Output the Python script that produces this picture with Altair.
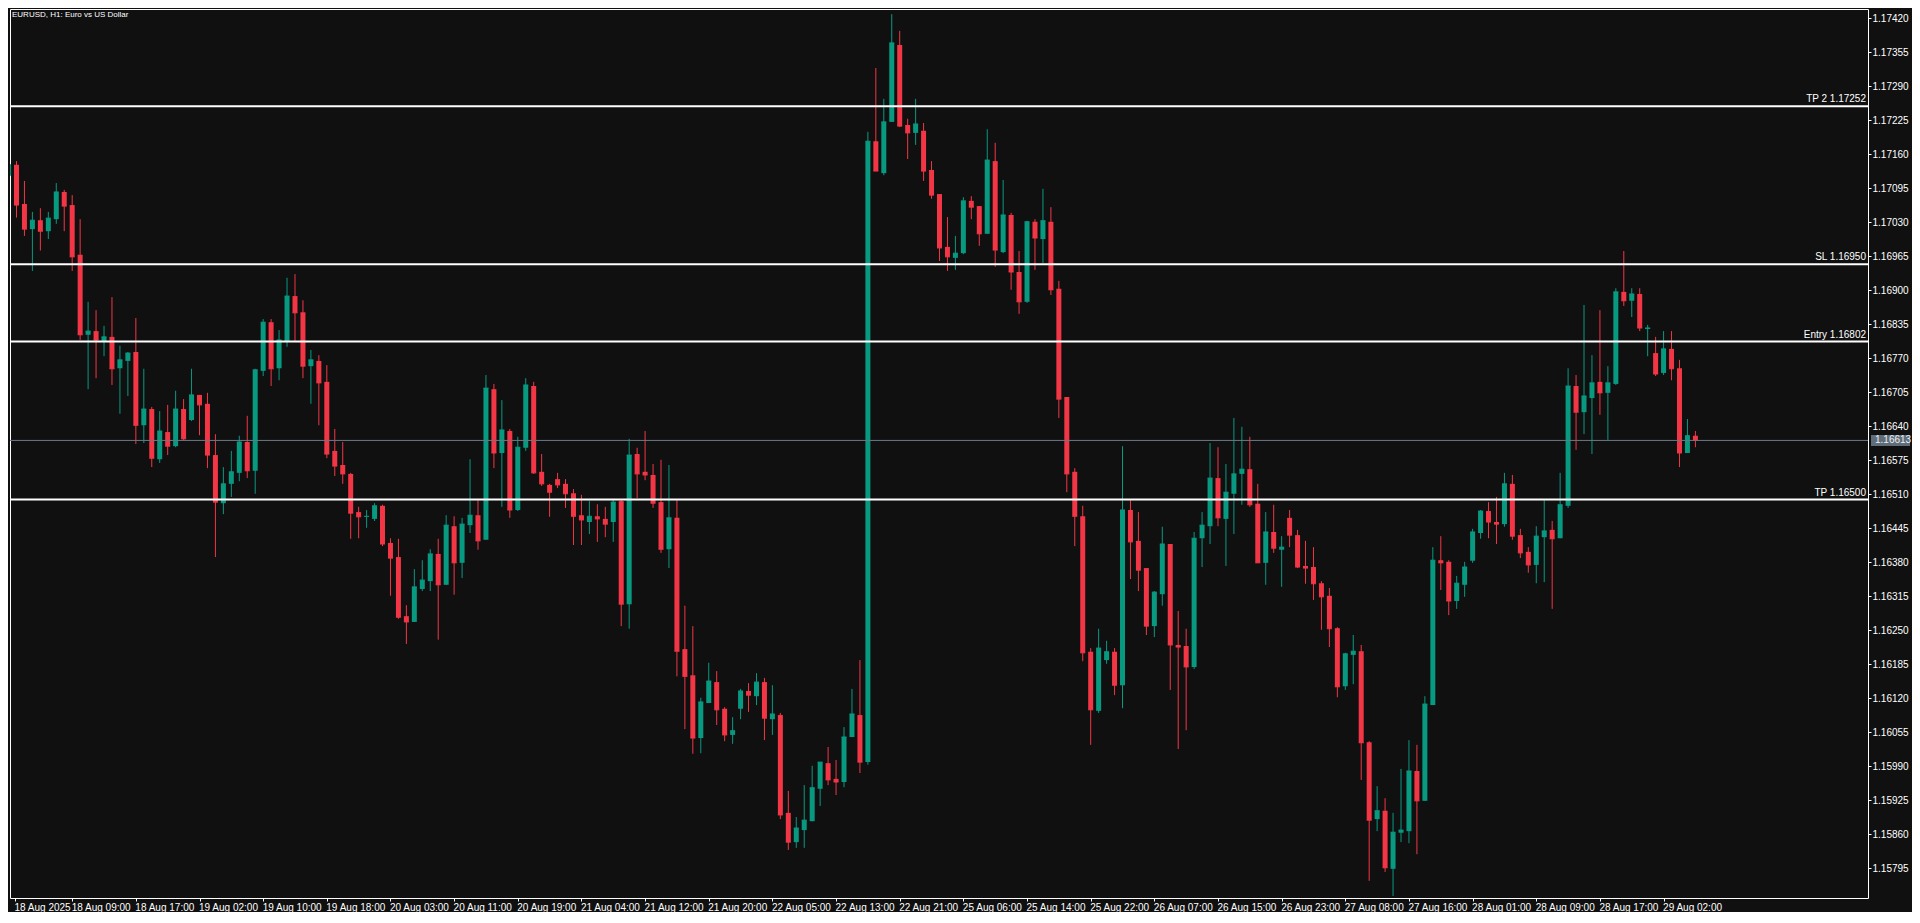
import json
import altair as alt
import pandas as pd

# ---------------- data (EURUSD H1) ----------------
opens = [1.17119, 1.17140, 1.17065, 1.17017, 1.17034, 1.17013, 1.17036, 1.17088, 1.17063, 1.16968,
         1.16815, 1.16822, 1.16803, 1.16811, 1.16751, 1.16765, 1.16782, 1.16642, 1.16673, 1.16577,
         1.16629, 1.16602, 1.16673, 1.16652, 1.16700, 1.16683, 1.16585, 1.16493, 1.16530, 1.16551,
         1.16610, 1.16555, 1.16746, 1.16839, 1.16751, 1.16803, 1.16889, 1.16858, 1.16755, 1.16765,
         1.16725, 1.16593, 1.16566, 1.16549, 1.16476, 1.16467, 1.16463, 1.16488, 1.16417, 1.16390,
         1.16277, 1.16266, 1.16329, 1.16344, 1.16396, 1.16337, 1.16449, 1.16379, 1.16451, 1.16470,
         1.16423, 1.16711, 1.16589, 1.16631, 1.16480, 1.16599, 1.16717, 1.16553, 1.16528, 1.16539,
         1.16530, 1.16512, 1.16470, 1.16457, 1.16468, 1.16463, 1.16457, 1.16497, 1.16300, 1.16587,
         1.16553, 1.16547, 1.16495, 1.16405, 1.16465, 1.16214, 1.16164, 1.16044, 1.16111, 1.16151,
         1.16100, 1.16050, 1.16100, 1.16134, 1.16124, 1.16151, 1.16080, 1.16088, 1.15901, 1.15845,
         1.15868, 1.15885, 1.15947, 1.15996, 1.15966, 1.15960, 1.16046, 1.16088, 1.15998, 1.17185,
         1.17124, 1.17222, 1.17369, 1.17216, 1.17201, 1.17205, 1.17130, 1.17084, 1.16983, 1.16962,
         1.16971, 1.17071, 1.17061, 1.17008, 1.17147, 1.16973, 1.17044, 1.16935, 1.16878, 1.17031,
         1.16998, 1.17031, 1.16903, 1.16696, 1.16553, 1.16468, 1.16209, 1.16096, 1.16193, 1.16209,
         1.16145, 1.16480, 1.16421, 1.16369, 1.16258, 1.16319, 1.16415, 1.16222, 1.16220, 1.16180,
         1.16426, 1.16449, 1.16541, 1.16463, 1.16511, 1.16549, 1.16558, 1.16492, 1.16379, 1.16438,
         1.16404, 1.16465, 1.16432, 1.16373, 1.16371, 1.16340, 1.16316, 1.16254, 1.16143, 1.16203,
         1.16210, 1.16036, 1.15889, 1.15905, 1.15794, 1.15863, 1.15866, 1.15981, 1.15924, 1.16107,
         1.16384, 1.16381, 1.16306, 1.16337, 1.16383, 1.16436, 1.16478, 1.16457, 1.16453, 1.16530,
         1.16432, 1.16400, 1.16375, 1.16428, 1.16442, 1.16426, 1.16488, 1.16717, 1.16667, 1.16694,
         1.16725, 1.16704, 1.16721, 1.16897, 1.16880, 1.16893, 1.16826, 1.16780, 1.16742, 1.16788,
         1.16751, 1.16589, 1.16622]
highs = [1.17149, 1.17147, 1.17109, 1.17050, 1.17057, 1.17050, 1.17105, 1.17092, 1.17082, 1.17036,
         1.16878, 1.16862, 1.16832, 1.16887, 1.16794, 1.16782, 1.16847, 1.16750, 1.16677, 1.16669,
         1.16681, 1.16708, 1.16692, 1.16750, 1.16700, 1.16704, 1.16625, 1.16562, 1.16593, 1.16622,
         1.16660, 1.16750, 1.16845, 1.16845, 1.16824, 1.16924, 1.16931, 1.16881, 1.16786, 1.16776,
         1.16757, 1.16635, 1.16610, 1.16551, 1.16486, 1.16480, 1.16493, 1.16490, 1.16426, 1.16425,
         1.16298, 1.16367, 1.16384, 1.16405, 1.16425, 1.16470, 1.16468, 1.16465, 1.16577, 1.16499,
         1.16738, 1.16721, 1.16690, 1.16635, 1.16620, 1.16732, 1.16725, 1.16587, 1.16530, 1.16551,
         1.16539, 1.16520, 1.16509, 1.16497, 1.16491, 1.16486, 1.16501, 1.16501, 1.16616, 1.16599,
         1.16631, 1.16568, 1.16576, 1.16566, 1.16501, 1.16297, 1.16258, 1.16121, 1.16188, 1.16172,
         1.16103, 1.16084, 1.16138, 1.16149, 1.16168, 1.16159, 1.16145, 1.16092, 1.15943, 1.15893,
         1.15954, 1.15991, 1.15998, 1.16027, 1.16002, 1.16065, 1.16138, 1.16193, 1.17203, 1.17325,
         1.17266, 1.17428, 1.17396, 1.17228, 1.17266, 1.17220, 1.17147, 1.17084, 1.17040, 1.17004,
         1.17078, 1.17080, 1.17061, 1.17208, 1.17182, 1.17111, 1.17048, 1.16975, 1.17033, 1.17036,
         1.17094, 1.17059, 1.16918, 1.16696, 1.16560, 1.16488, 1.16216, 1.16253, 1.16230, 1.16216,
         1.16602, 1.16499, 1.16476, 1.16369, 1.16325, 1.16448, 1.16415, 1.16287, 1.16253, 1.16438,
         1.16476, 1.16608, 1.16600, 1.16568, 1.16656, 1.16639, 1.16620, 1.16530, 1.16476, 1.16490,
         1.16430, 1.16480, 1.16442, 1.16421, 1.16409, 1.16344, 1.16331, 1.16256, 1.16207, 1.16241,
         1.16222, 1.16038, 1.15952, 1.15929, 1.15901, 1.15985, 1.16040, 1.16031, 1.16124, 1.16409,
         1.16430, 1.16384, 1.16354, 1.16381, 1.16444, 1.16480, 1.16495, 1.16505, 1.16551, 1.16547,
         1.16444, 1.16409, 1.16449, 1.16499, 1.16459, 1.16551, 1.16751, 1.16738, 1.16872, 1.16776,
         1.16862, 1.16755, 1.16904, 1.16975, 1.16904, 1.16904, 1.16834, 1.16811, 1.16822, 1.16822,
         1.16767, 1.16654, 1.16631]
lows = [1.17111, 1.17039, 1.17004, 1.16937, 1.16976, 1.16998, 1.17027, 1.17013, 1.16937, 1.16805,
        1.16711, 1.16732, 1.16774, 1.16719, 1.16664, 1.16698, 1.16606, 1.16608, 1.16562, 1.16570,
        1.16585, 1.16600, 1.16614, 1.16650, 1.16623, 1.16560, 1.16390, 1.16472, 1.16505, 1.16535,
        1.16541, 1.16511, 1.16736, 1.16717, 1.16728, 1.16792, 1.16803, 1.16732, 1.16683, 1.16642,
        1.16579, 1.16545, 1.16530, 1.16425, 1.16426, 1.16446, 1.16459, 1.16411, 1.16316, 1.16272,
        1.16224, 1.16266, 1.16325, 1.16325, 1.16232, 1.16337, 1.16318, 1.16350, 1.16436, 1.16404,
        1.16423, 1.16560, 1.16486, 1.16465, 1.16478, 1.16593, 1.16549, 1.16526, 1.16467, 1.16522,
        1.16484, 1.16413, 1.16413, 1.16434, 1.16419, 1.16428, 1.16419, 1.16258, 1.16253, 1.16503,
        1.16537, 1.16484, 1.16398, 1.16369, 1.16162, 1.16061, 1.16014, 1.16015, 1.16111, 1.16069,
        1.16038, 1.16033, 1.16080, 1.16094, 1.16107, 1.16040, 1.16050, 1.15889, 1.15830, 1.15834,
        1.15834, 1.15885, 1.15914, 1.15954, 1.15935, 1.15950, 1.16046, 1.15977, 1.15993, 1.17128,
        1.17120, 1.17222, 1.17212, 1.17151, 1.17178, 1.17109, 1.17075, 1.16956, 1.16937, 1.16939,
        1.16969, 1.17036, 1.16985, 1.17008, 1.16945, 1.16971, 1.16901, 1.16855, 1.16876, 1.16939,
        1.16952, 1.16891, 1.16656, 1.16514, 1.16411, 1.16191, 1.16031, 1.16092, 1.16186, 1.16126,
        1.16101, 1.16348, 1.16325, 1.16241, 1.16237, 1.16297, 1.16136, 1.16023, 1.16059, 1.16176,
        1.16371, 1.16415, 1.16449, 1.16373, 1.16434, 1.16490, 1.16486, 1.16379, 1.16337, 1.16398,
        1.16333, 1.16409, 1.16369, 1.16339, 1.16308, 1.16251, 1.16218, 1.16122, 1.16136, 1.16147,
        1.15964, 1.15771, 1.15866, 1.15788, 1.15742, 1.15845, 1.15843, 1.15822, 1.15924, 1.16107,
        1.16327, 1.16279, 1.16291, 1.16314, 1.16379, 1.16425, 1.16426, 1.16415, 1.16448, 1.16423,
        1.16388, 1.16360, 1.16340, 1.16342, 1.16291, 1.16426, 1.16484, 1.16595, 1.16625, 1.16587,
        1.16662, 1.16614, 1.16719, 1.16870, 1.16849, 1.16822, 1.16774, 1.16736, 1.16738, 1.16728,
        1.16562, 1.16589, 1.16600]
closes = [1.17140, 1.17063, 1.17017, 1.17034, 1.17013, 1.17038, 1.17088, 1.17061, 1.16964, 1.16815,
          1.16822, 1.16805, 1.16811, 1.16750, 1.16767, 1.16780, 1.16642, 1.16673, 1.16579, 1.16631,
          1.16602, 1.16673, 1.16616, 1.16700, 1.16681, 1.16585, 1.16495, 1.16530, 1.16553, 1.16610,
          1.16555, 1.16748, 1.16839, 1.16750, 1.16805, 1.16889, 1.16857, 1.16755, 1.16767, 1.16723,
          1.16587, 1.16564, 1.16549, 1.16474, 1.16467, 1.16468, 1.16488, 1.16415, 1.16388, 1.16275,
          1.16266, 1.16333, 1.16346, 1.16396, 1.16337, 1.16451, 1.16379, 1.16453, 1.16470, 1.16421,
          1.16713, 1.16589, 1.16633, 1.16480, 1.16600, 1.16719, 1.16551, 1.16530, 1.16514, 1.16528,
          1.16511, 1.16468, 1.16461, 1.16468, 1.16463, 1.16453, 1.16495, 1.16300, 1.16585, 1.16549,
          1.16547, 1.16493, 1.16405, 1.16465, 1.16210, 1.16162, 1.16044, 1.16113, 1.16153, 1.16098,
          1.16050, 1.16058, 1.16134, 1.16126, 1.16151, 1.16082, 1.16090, 1.15897, 1.15845, 1.15872,
          1.15887, 1.15949, 1.15998, 1.15964, 1.15960, 1.16046, 1.16090, 1.15998, 1.17185, 1.17128,
          1.17222, 1.17373, 1.17214, 1.17201, 1.17218, 1.17128, 1.17082, 1.16981, 1.16964, 1.16971,
          1.17071, 1.17059, 1.17008, 1.17149, 1.16977, 1.17044, 1.16935, 1.16878, 1.17031, 1.17000,
          1.17033, 1.16901, 1.16692, 1.16549, 1.16468, 1.16207, 1.16098, 1.16216, 1.16209, 1.16145,
          1.16480, 1.16419, 1.16365, 1.16258, 1.16323, 1.16415, 1.16222, 1.16218, 1.16180, 1.16426,
          1.16451, 1.16541, 1.16465, 1.16514, 1.16549, 1.16558, 1.16490, 1.16379, 1.16438, 1.16407,
          1.16409, 1.16432, 1.16371, 1.16369, 1.16339, 1.16314, 1.16253, 1.16142, 1.16205, 1.16210,
          1.16035, 1.15887, 1.15905, 1.15796, 1.15864, 1.15868, 1.15981, 1.15924, 1.16109, 1.16384,
          1.16379, 1.16306, 1.16340, 1.16371, 1.16438, 1.16478, 1.16457, 1.16453, 1.16530, 1.16430,
          1.16398, 1.16375, 1.16430, 1.16440, 1.16425, 1.16490, 1.16717, 1.16667, 1.16698, 1.16723,
          1.16704, 1.16723, 1.16897, 1.16880, 1.16893, 1.16828, 1.16828, 1.16740, 1.16788, 1.16750,
          1.16589, 1.16622, 1.16613]

time_labels = ["18 Aug 2025", "18 Aug 09:00", "18 Aug 17:00", "19 Aug 02:00", "19 Aug 10:00",
               "19 Aug 18:00", "20 Aug 03:00", "20 Aug 11:00", "20 Aug 19:00", "21 Aug 04:00",
               "21 Aug 12:00", "21 Aug 20:00", "22 Aug 05:00", "22 Aug 13:00", "22 Aug 21:00",
               "25 Aug 06:00", "25 Aug 14:00", "25 Aug 22:00", "26 Aug 07:00", "26 Aug 15:00",
               "26 Aug 23:00", "27 Aug 08:00", "27 Aug 16:00", "28 Aug 01:00", "28 Aug 09:00",
               "28 Aug 17:00", "29 Aug 02:00"]
price_ticks = [1.17420, 1.17355, 1.17290, 1.17225, 1.17160, 1.17095, 1.17030, 1.16965, 1.16900,
               1.16835, 1.16770, 1.16705, 1.16640, 1.16575, 1.16510, 1.16445, 1.16380, 1.16315,
               1.16250, 1.16185, 1.16120, 1.16055, 1.15990, 1.15925, 1.15860, 1.15795]
level_names = ["TP 2", "SL", "Entry", "TP"]
level_prices = [1.17252, 1.16950, 1.16802, 1.16500]
last_price = 1.16613
chart_title = "EURUSD, H1:  Euro vs US Dollar"

# ---------------- styling ----------------
BG = "#101010"
FG = "#ffffff"
BULL = "#089981"
BEAR = "#f23645"
BIDLINE = "#6b7886"
BIDBOX = "#5f6d7b"
FONT = "Liberation Sans"
W, H = 1858, 889
BARS_PER_LABEL = 8

df = pd.DataFrame({
    "bar": list(range(len(opens))),
    "open": opens, "high": highs, "low": lows, "close": closes,
})
df["dir"] = ["up" if c >= o else "down" for o, c in zip(opens, closes)]

levels = pd.DataFrame({
    "price": level_prices,
    "label": [f"{n} {p:.5f}" for n, p in zip(level_names, level_prices)],
})
bid = pd.DataFrame({"price": [last_price], "label": [f"{last_price:.5f}"]})
ttl = pd.DataFrame({"t": [chart_title]})

xs = alt.Scale(domain=[0.8125, 233.0625], nice=False, zero=False)
ys = alt.Scale(domain=[1.157382, 1.174378], nice=False, zero=False)
col = alt.Color("dir:N", scale=alt.Scale(domain=["up", "down"], range=[BULL, BEAR]), legend=None)

tick_vals = [0.8125] + [BARS_PER_LABEL * k for k in range(1, len(time_labels))]
x_axis = alt.Axis(orient="bottom", values=tick_vals,
                  labelExpr=json.dumps(time_labels) + "[round(datum.value / 8)]",
                  tickSize=3, labelPadding=1, labelAlign="left", labelBaseline="top",
                  labelOffset=-1, title=None, labelOverlap=False, labelFlush=False,
                  labelFont=FONT, labelFontSize=10, labelColor=FG, tickColor=FG,
                  domain=False, grid=False)
y_axis = alt.Axis(orient="right", values=price_ticks, format=".5f", tickSize=3,
                  labelPadding=1, title=None, labelOverlap=False, labelFlush=False,
                  labelFont=FONT, labelFontSize=10, labelColor=FG, tickColor=FG,
                  domain=False, grid=False)


def X(field):
    return alt.X(field, scale=xs, axis=x_axis)


def Y(field):
    return alt.Y(field, scale=ys, axis=y_axis)


base = alt.Chart(df)
wicks = base.mark_rule(strokeWidth=1, clip=True).encode(
    x=X("bar:Q"), y=Y("low:Q"), y2="high:Q", color=col)
bodies = base.mark_bar(width=5, clip=True, strokeWidth=0).encode(
    x=X("bar:Q"), y=Y("open:Q"), y2="close:Q", color=col)
close_ticks = base.mark_tick(orient="horizontal", size=5, thickness=1, opacity=1, clip=True).encode(
    x=X("bar:Q"), y=Y("close:Q"), color=col)

bid_rule = alt.Chart(bid).mark_rule(color=BIDLINE, strokeWidth=1).encode(y=Y("price:Q"))
bid_box = alt.Chart(bid).mark_tick(orient="horizontal", size=39, thickness=11,
                                   color=BIDBOX, opacity=1).encode(
    x=alt.value(W + 22.5), y=Y("price:Q"))
bid_text = alt.Chart(bid).mark_text(align="left", baseline="middle", color="#eeeeee",
                                    font=FONT, fontSize=10).encode(
    x=alt.value(W + 7), y=Y("price:Q"), text="label:N")

level_rules = alt.Chart(levels).mark_rule(color=FG, strokeWidth=2).encode(y=Y("price:Q"))
level_text = alt.Chart(levels).mark_text(align="right", baseline="alphabetic", dy=-4,
                                         color=FG, font=FONT, fontSize=10).encode(
    x=alt.value(W - 2), y=Y("price:Q"), text="label:N")

title_text = alt.Chart(ttl).mark_text(align="left", baseline="top", color=FG,
                                      font=FONT, fontSize=8).encode(
    x=alt.value(2), y=alt.value(2), text="t:N")

chart = alt.layer(
    wicks, bodies, close_ticks, bid_rule, level_rules, level_text, bid_box, bid_text, title_text
).properties(
    width=W, height=H, background=BG,
    padding={"left": 1, "top": 1, "right": 0, "bottom": 0},
).configure_view(
    stroke=FG, strokeWidth=1,
)

chart.save("out.html", embed_options={"renderer": "svg", "actions": False})
